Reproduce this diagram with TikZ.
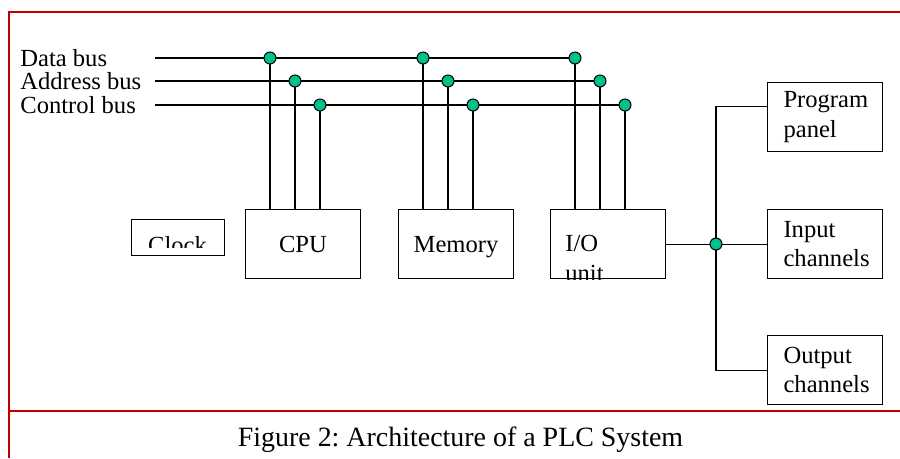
\documentclass[tikz,border=0pt]{standalone}
\usepackage{fontspec}
\setmainfont{Liberation Serif}
\usetikzlibrary{positioning}
\frenchspacing

\definecolor{tapgreen}{RGB}{0,192,140}
\definecolor{framered}{RGB}{192,0,0}

\tikzset{
  blk/.style={draw,line width=0.6pt,minimum width=2.3cm,minimum height=1.38cm,inner sep=0pt,anchor=north west},
  side/.style={blk,align=left,text width=1.66cm,inner xsep=0.32cm},
  tap/.style={circle,draw,fill=tapgreen,line width=0.6pt,inner sep=0pt,minimum size=0.24cm},
  bus/.style={line width=0.8pt},
  lbl/.style={anchor=west,inner sep=0pt},
  frame/.style={draw=framered,line width=1.2pt}
}

\begin{document}
\begin{tikzpicture}[x=0.02cm,y=-0.02cm,font=\fontsize{14}{17}\selectfont]
\useasboundingbox (0,0) rectangle (900,458);

% frame
\draw[frame] (900,12) -- (9,12) -- (9,458);
\draw[frame] (9,411) -- (900,411);

% bus labels
\node[lbl] (dlbl) at (20,58) {Data bus};
\node[lbl] (albl) at (20,81) {Address bus};
\node[lbl] (clbl) at (20,105) {Control bus};
\coordinate (dbus) at (155,58);
\coordinate (abus) at (155,81);
\coordinate (cbus) at (155,105);

% blocks
\node[blk,minimum width=1.86cm,minimum height=0.72cm] (clock) at (131,219) {};
\node[blk,text depth=0pt] (cpu) at (245,209) {CPU};
\node[blk,text depth=0pt] (mem) at (398,209) {Memory};
\node[blk] (io) at (550,209) {};
\node[side] (prog) at (767,82) {Program\\panel};
\node[side] (inp) at (767,209) {Input\\channels};
\node[side] (outp) at (767,335) {Output\\channels};

% clipped texts
\begin{scope}
\clip (131,219) rectangle (224,247);
\node[anchor=base,inner sep=0pt] (clocktxt) at (177.5,253) {Clock};
\end{scope}
\begin{scope}
\clip (io.north west) rectangle (io.south east);
\node[anchor=base west,inner sep=0pt] (iotxt) at (565,251) {I/O};
\node[anchor=base west,inner sep=0pt] (unittxt) at (565,281) {unit};
\end{scope}

% taps
\foreach \b in {cpu,mem,io}
  \foreach \k in {1,2,3}
    \coordinate (\b-top\k) at ([xshift=\k*0.5cm]\b.north west);

\draw[bus] (dbus) -- (dbus -| io-top1);
\draw[bus] (abus) -- (abus -| io-top2);
\draw[bus] (cbus) -- (cbus -| io-top3);

\foreach \b in {cpu,mem,io}
  \foreach \k/\bb in {1/dbus,2/abus,3/cbus} {
    \draw[line width=0.6pt] (\b-top\k |- \bb) -- (\b-top\k);
    \node[tap] (\b-tap\k) at (\b-top\k |- \bb) {};
  }

% I/O side
\coordinate (jpos) at (716,0);
\draw[line width=0.6pt] (io.east) -- (inp.west);
\draw[line width=0.6pt] ([yshift=0.22cm]prog.west) -| (jpos |- io.east) |- (outp.west);
\node[tap] (jn) at (jpos |- io.east) {};

% caption
\node[anchor=base,inner sep=0pt,font=\fontsize{15.9}{19}\selectfont] (caption) at (460.5,446) {Figure 2: Architecture of a PLC System};
\end{tikzpicture}
\end{document}
